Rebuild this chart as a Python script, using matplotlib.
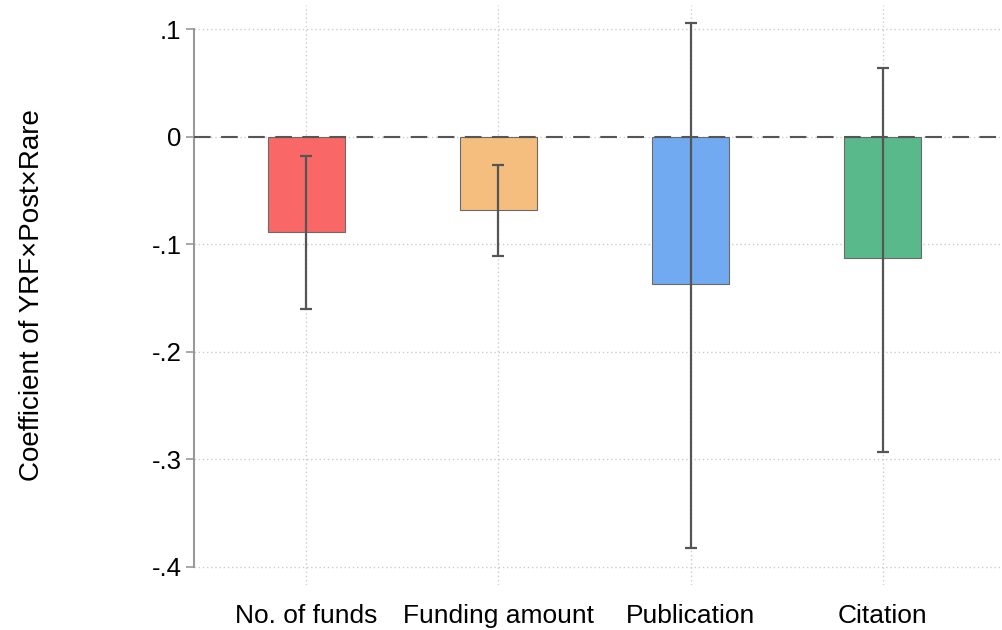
import matplotlib.pyplot as plt

plt.rcParams["font.family"] = ["Liberation Sans", "DejaVu Sans"]

categories = ["No. of funds", "Funding amount", "Publication", "Citation"]
coefs = [-0.089, -0.068, -0.137, -0.113]
ci_low = [-0.160, -0.111, -0.382, -0.293]
ci_high = [-0.018, -0.026, 0.106, 0.064]
colors = ["#f96767", "#f5be7e", "#72aaf1", "#59b98b"]
yticks = [0.1, 0, -0.1, -0.2, -0.3, -0.4]
ytick_labels = [".1", "0", "-.1", "-.2", "-.3", "-.4"]

fig = plt.figure(figsize=(10.02, 6.3), dpi=100)
ax = fig.add_axes([0.1936, 0.0714, 0.8044, 0.9206])

x = list(range(1, len(categories) + 1))
yerr = [[c - lo for c, lo in zip(coefs, ci_low)],
        [hi - c for c, hi in zip(coefs, ci_high)]]

ax.bar(x, coefs, width=0.4, color=colors, edgecolor="#6a6a6a",
       linewidth=0.8, zorder=2)
ax.errorbar(x, coefs, yerr=yerr, fmt="none", ecolor="#555555",
            elinewidth=1.6, capsize=4, capthick=1.6, zorder=3)
ax.axhline(0, color="#555555", linewidth=1.5, dashes=(8, 5), zorder=4)

ax.set_xlim(0.417, 4.61)
ax.set_ylim(-0.4168, 0.1224)
ax.set_xticks(x)
ax.set_xticklabels(categories, fontsize=19)
ax.set_yticks(yticks)
ax.set_yticklabels(ytick_labels, fontsize=18.5)
ax.tick_params(axis="x", length=0, pad=14)
ax.tick_params(axis="y", length=6, width=1.2, color="#999999", pad=3)

ax.grid(True, linestyle=(0, (1, 2)), color="#cccccc", linewidth=1.0, zorder=0)
ax.set_axisbelow(True)

for side in ["top", "right", "bottom"]:
    ax.spines[side].set_visible(False)
ax.spines["left"].set_color("#999999")
ax.spines["left"].set_linewidth(1.5)
ax.spines["left"].set_bounds(-0.4, 0.1)

ax.set_ylabel("Coefficient of YRF×Post×Rare", fontsize=20)
ax.yaxis.set_label_coords(-0.185, 0.5)

fig.savefig("out.png", dpi=100)
plt.close(fig)
